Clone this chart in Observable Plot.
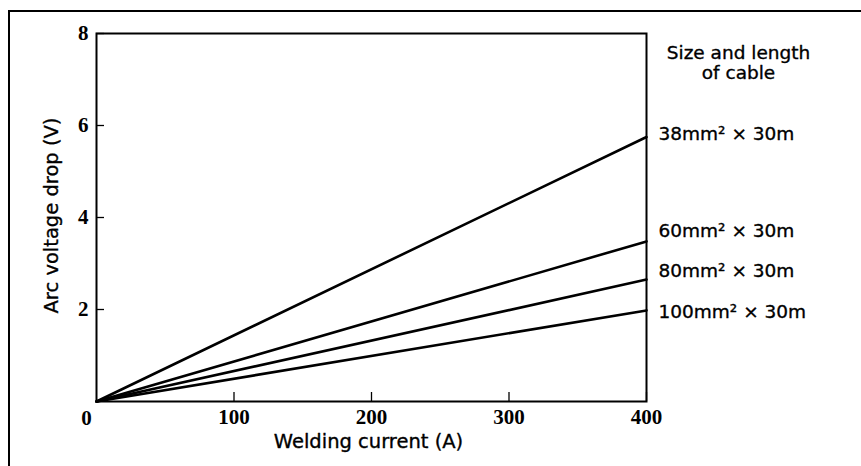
<!DOCTYPE html>
<html><head><meta charset="utf-8">
<script src="https://cdn.jsdelivr.net/npm/d3@7"></script>
<script src="https://cdn.jsdelivr.net/npm/@observablehq/plot@0.6"></script>
<style>
html,body{margin:0;padding:0;background:#fff;}
#wrap{position:relative;width:861px;height:466px;overflow:hidden;}
#border{position:absolute;left:7.5px;top:9.5px;width:900px;height:500px;border-left:2.5px solid #000;border-top:2.5px solid #000;pointer-events:none;}
</style></head><body><div id="wrap"><div id="chart"></div><div id="border"></div></div>
<script>
const cables = ["38mm² × 30m", "60mm² × 30m", "80mm² × 30m", "100mm² × 30m"];
const currentStart = 0;
const currentEnd = 400;
const dropAtStart = [0, 0, 0, 0];
const dropAtEnd = [5.75, 3.48, 2.65, 1.98];
const xTicks = [100, 200, 300, 400];
const yTicks = [2, 4, 6, 8];
const originLabel = [0];
const legendTitle = "Size and length\nof cable";
const xLabel = "Welding current (A)";
const yLabel = "Arc voltage drop (V)";

// label pixel nudges (style only)
const labelNudge = [-3, -10, -9, 2];

const lineData = cables.flatMap((c, i) => [
  {cable: c, current: currentStart, drop: dropAtStart[i]},
  {cable: c, current: currentEnd, drop: dropAtEnd[i]}
]);
const endData = cables.map((c, i) => ({cable: c, current: currentEnd, drop: dropAtEnd[i]}));

const serif = "'Liberation Serif', 'DejaVu Serif', serif";
const sans = "'DejaVu Sans', sans-serif";
const heavy = {fill: "#000", stroke: "#000", strokeWidth: 0.35};

const chart = Plot.plot({
  width: 861,
  height: 466,
  marginLeft: 96,
  marginRight: 215,
  marginTop: 33,
  marginBottom: 65,
  style: {fontFamily: sans, background: "#fff", color: "#000"},
  x: {domain: [0, 400]},
  y: {domain: [0, 8]},
  marks: [
    Plot.axisX({ticks: xTicks, tickSize: -9, tickPadding: 17, label: null,
      fontFamily: serif, fontSize: 21, fontWeight: "bold", strokeWidth: 1.3}),
    Plot.axisY({ticks: yTicks, tickSize: -8, tickPadding: 16, label: null,
      fontFamily: serif, fontSize: 21, fontWeight: "bold", strokeWidth: 1.3}),
    Plot.frame({stroke: "#000", strokeWidth: 2}),
    Plot.line(lineData, {x: "current", y: "drop", z: "cable", stroke: "#000", strokeWidth: 2.6}),
    ...endData.map((d, i) => Plot.text([d], {x: "current", y: "drop", text: "cable",
      dx: 12, dy: labelNudge[i], textAnchor: "start", fontSize: 18.5, fontFamily: sans, ...heavy})),
    Plot.text(originLabel, {x: d => d, y: d => d, text: d => String(d), dx: -10, dy: 17,
      fontFamily: serif, fontSize: 21, fontWeight: "bold", fill: "#000"}),
    Plot.text([legendTitle], {frameAnchor: "top-right", dx: 92, dy: 12, lineAnchor: "top",
      textAnchor: "middle", fontSize: 18.5, lineHeight: 1.05, fontFamily: sans, ...heavy}),
    Plot.text([yLabel], {frameAnchor: "left", dx: -45, dy: -2, rotate: -90,
      textAnchor: "middle", lineAnchor: "middle", fontSize: 19.5, fontFamily: sans, ...heavy}),
    Plot.text([xLabel], {frameAnchor: "bottom", dx: -3, dy: 40, textAnchor: "middle",
      lineAnchor: "middle", fontSize: 19.5, fontFamily: sans, ...heavy})
  ]
});
document.getElementById("chart").appendChild(chart);
</script>
</body></html>
